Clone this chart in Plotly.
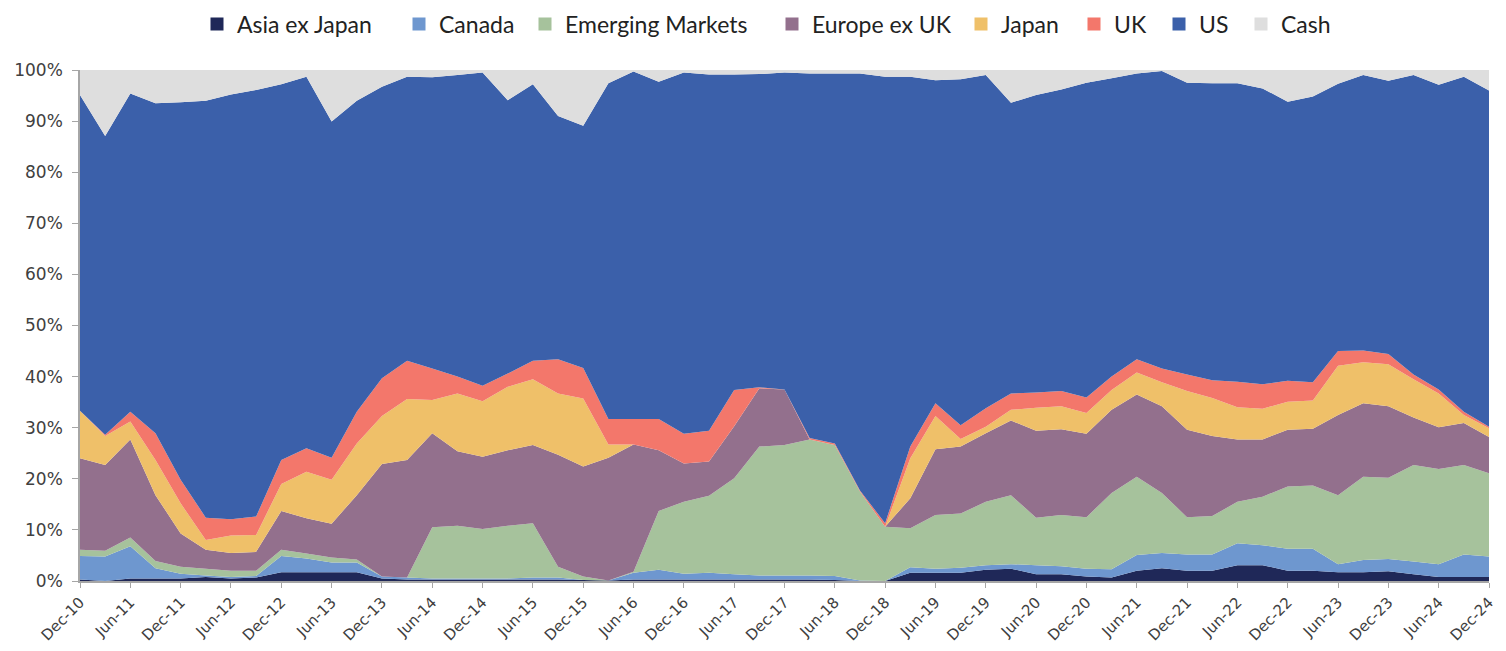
import plotly.graph_objects as go

# Quarter labels (Dec-10 .. Dec-24)
months = ["Mar", "Jun", "Sep", "Dec"]
quarters = ["Dec-10"] + [f"{m}-{y:02d}" for y in range(11, 25) for m in months]
tick_labels = quarters[::2]

series_names = ["Asia ex Japan", "Canada", "Emerging Markets", "Europe ex UK",
                "Japan", "UK", "US", "Cash"]

asia_ex_japan = [0.3, 0.0, 0.5, 0.5, 0.5, 0.8, 0.5, 0.7, 1.7, 1.7, 1.7, 1.7, 0.5, 0.3, 0.3,
                 0.3, 0.3, 0.3, 0.3, 0.3, 0.2, 0.1, 0.3, 0.3, 0.3, 0.3, 0.3, 0.3, 0.3, 0.3,
                 0.2, 0.0, 0.0, 1.6, 1.6, 1.6, 2.2, 2.4, 1.3, 1.3, 0.9, 0.7, 2.0, 2.5, 2.0,
                 2.0, 3.1, 3.1, 2.0, 2.0, 1.7, 1.7, 1.9, 1.3, 0.8, 0.8, 0.8]
canada = [4.6, 4.8, 6.3, 2.0, 0.9, 0.3, 0.3, 0.3, 3.2, 2.7, 1.9, 1.9, 0.4, 0.4, 0.2,
          0.2, 0.2, 0.2, 0.4, 0.4, 0.0, 0.0, 1.3, 1.9, 1.1, 1.3, 1.0, 0.8, 0.8, 0.8,
          0.8, 0.1, 0.0, 1.1, 0.8, 1.0, 0.9, 0.9, 1.8, 1.6, 1.5, 1.6, 3.1, 3.0, 3.2,
          3.2, 4.3, 3.9, 4.3, 4.3, 1.6, 2.4, 2.4, 2.5, 2.5, 4.4, 4.0]
emerging_markets = [1.2, 1.1, 1.7, 1.4, 1.4, 1.3, 1.2, 1.0, 1.2, 1.0, 1.0, 0.6, 0.0, 0.0, 10.0,
                    10.3, 9.7, 10.3, 10.6, 2.1, 0.7, 0.0, 0.2, 11.5, 14.1, 15.1, 18.8, 25.2, 25.5, 26.6,
                    25.6, 17.4, 10.6, 7.6, 10.5, 10.6, 12.4, 13.5, 9.3, 10.0, 10.1, 14.9, 15.3, 11.7, 7.3,
                    7.5, 8.1, 9.5, 12.2, 12.4, 13.5, 16.3, 15.9, 18.9, 18.6, 17.5, 16.3]
europe_ex_uk = [17.9, 16.8, 19.2, 12.9, 6.5, 3.7, 3.5, 3.7, 7.6, 6.9, 6.6, 12.6, 22.0, 23.0, 18.4,
                14.6, 14.1, 14.8, 15.3, 21.9, 21.5, 24.0, 24.9, 11.9, 7.5, 6.7, 10.2, 11.4, 10.9, 0.0,
                0.0, 0.0, 0.0, 5.9, 12.9, 13.1, 13.4, 14.6, 17.0, 16.8, 16.3, 16.3, 16.1, 17.0, 17.1,
                15.7, 12.2, 11.2, 11.1, 11.1, 15.7, 14.4, 14.0, 9.3, 8.2, 8.2, 7.1]
japan = [9.3, 5.7, 3.5, 6.9, 5.9, 1.9, 3.4, 3.3, 5.3, 9.1, 8.6, 10.1, 9.4, 11.9, 6.5,
         11.3, 10.9, 12.4, 12.9, 12.0, 13.3, 2.6, 0.0, 0.0, 0.0, 0.0, 0.0, 0.0, 0.0, 0.0,
         0.0, 0.0, 0.0, 7.8, 6.5, 1.5, 1.3, 2.1, 4.5, 4.5, 4.1, 3.9, 4.3, 4.7, 7.6,
         7.4, 6.3, 6.0, 5.5, 5.5, 9.6, 8.0, 8.2, 7.5, 6.6, 1.6, 1.7]
uk = [0.0, 0.2, 1.9, 5.2, 4.6, 4.4, 3.2, 3.6, 4.7, 4.6, 4.3, 6.2, 7.4, 7.5, 6.2,
      3.3, 3.0, 2.6, 3.6, 6.7, 6.0, 5.0, 5.0, 6.1, 5.8, 6.0, 7.1, 0.2, 0.0, 0.3,
      0.3, 0.2, 0.7, 2.3, 2.5, 2.7, 3.6, 3.2, 3.0, 3.0, 3.0, 2.6, 2.6, 2.7, 3.2,
      3.5, 5.0, 4.8, 4.1, 3.6, 2.9, 2.3, 2.0, 0.9, 0.8, 0.6, 0.3]
us = [61.8, 58.5, 62.3, 64.6, 73.9, 81.6, 83.1, 83.5, 73.5, 72.7, 65.8, 60.9, 57.0, 55.6, 57.0,
      59.0, 61.3, 53.5, 54.1, 47.6, 47.4, 65.7, 68.0, 66.0, 70.7, 69.7, 61.7, 61.3, 62.0, 71.3,
      72.4, 81.6, 87.4, 72.4, 63.2, 67.7, 65.2, 56.9, 58.2, 59.0, 61.6, 58.4, 55.9, 58.2, 57.1,
      58.1, 58.4, 57.9, 54.6, 55.9, 52.3, 53.9, 53.5, 58.6, 59.6, 65.6, 65.8]
cash = [4.9, 12.9, 4.6, 6.5, 6.3, 6.0, 4.8, 3.9, 2.8, 1.3, 10.1, 6.0, 3.3, 1.3, 1.4,
        1.0, 0.5, 5.9, 2.8, 9.0, 10.9, 2.6, 0.3, 2.3, 0.5, 0.9, 0.9, 0.8, 0.5, 0.7,
        0.7, 0.7, 1.3, 1.3, 2.0, 1.8, 1.0, 6.4, 4.9, 3.8, 2.5, 1.6, 0.7, 0.2, 2.5,
        2.6, 2.6, 3.6, 6.2, 5.2, 2.7, 1.0, 2.1, 1.0, 2.9, 1.3, 4.0]

series_values = [asia_ex_japan, canada, emerging_markets, europe_ex_uk, japan, uk, us, cash]
colors = ["#1f2858", "#6e97cf", "#a6c29c", "#93708d", "#efc069", "#f3776b", "#3b60aa", "#dedede"]

# legend swatch positions (page px, centre of square)
legend_x = [216, 418, 544, 791, 980, 1093, 1178, 1260]

OFF = 8  # default page body margin
W, H = 1490, 635
fig = go.Figure()
for name, vals, col in zip(series_names, series_values, colors):
    fig.add_trace(go.Scatter(
        x=quarters, y=vals, name=name, mode="none", stackgroup="one",
        fill="tonexty", fillcolor=col, line=dict(width=0), showlegend=False,
        hoverinfo="x+y+name"))

legend_font = dict(family="Lato", size=23, color="#222222")
legends = {}
for i, (name, col, lx) in enumerate(zip(series_names, colors, legend_x)):
    key = "legend" if i == 0 else f"legend{i + 1}"
    fig.add_trace(go.Scatter(
        x=[None], y=[None], mode="markers", name=name, legend=key,
        marker=dict(symbol="square", size=13, color=col), showlegend=True))
    legends[key] = dict(orientation="h", xref="container", yref="container",
                        x=(lx - OFF - 19) / W, xanchor="left",
                        y=1 - (24 - OFF) / H, yanchor="middle",
                        font=legend_font, itemclick=False,
                        bgcolor="rgba(0,0,0,0)", borderwidth=0)

fig.update_layout(
    width=W, height=H,
    margin=dict(l=80 - OFF, r=W - (1489 - OFF), t=70 - OFF, b=H - (581 - OFF),
                autoexpand=False),
    paper_bgcolor="white", plot_bgcolor="white",
    showlegend=True,
    xaxis=dict(type="category", range=[0, len(quarters) - 1], automargin=False,
               tickmode="array", tickvals=tick_labels, ticktext=tick_labels,
               tickangle=-45, tickfont=dict(family="DejaVu Sans", size=15, color="#404040"),
               showgrid=False,
               showline=True, linecolor="#a6a6a6", linewidth=1.5,
               ticks="outside", ticklen=5, tickcolor="#a6a6a6", zeroline=False,
               ticklabelstandoff=0),
    yaxis=dict(range=[0, 100], tickvals=list(range(0, 101, 10)), automargin=False,
               ticktext=[f"{v}%" for v in range(0, 101, 10)],
               tickfont=dict(family="DejaVu Sans", size=17, color="#404040"),
               showgrid=False,
               showline=True, linecolor="#a6a6a6", linewidth=1.5,
               ticks="outside", ticklen=6, tickcolor="#a6a6a6", zeroline=False,
               ticklabelstandoff=6),
    **legends,
)

fig.write_html("out.html")
